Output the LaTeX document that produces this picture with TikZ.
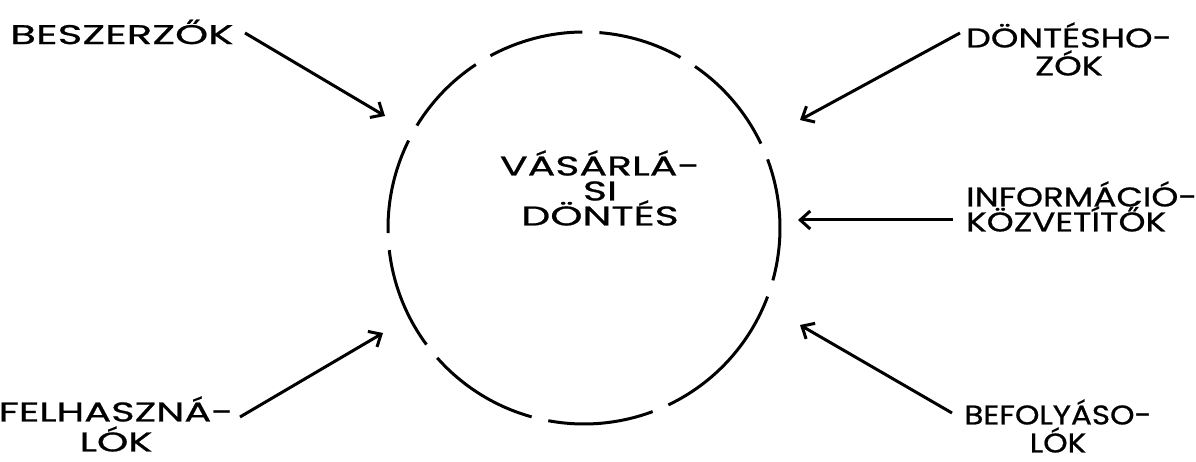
\documentclass[tikz,border=0pt]{standalone}
\usepackage{fontspec}
\newfontfamily\fA[FakeStretch=1.56,FakeBold=0.8]{Poppins}
\newfontfamily\fB[FakeStretch=1.30,FakeBold=0.8]{Poppins}
\newfontfamily\fC[FakeStretch=1.27,FakeBold=0.8]{Poppins}
\newfontfamily\fD[FakeStretch=1.48,FakeBold=0.8]{Poppins}
\newfontfamily\fE[FakeStretch=1.15,FakeBold=0.8]{Poppins}
\newfontfamily\fF[FakeStretch=1.52,FakeBold=0.8]{Poppins}
\usetikzlibrary{arrows.meta,calc}
\lineskiplimit=-100pt
\newcommand\lsA{\fontsize{27}{28}\selectfont}
\newcommand\lsB{\fontsize{27}{25}\selectfont}
\newcommand\lsC{\fontsize{27}{30}\selectfont}
\tikzset{
  lbl/.style={inner sep=0pt, align=center},
  arr/.style={line width=3pt, -{Straight Barb[length=10pt,width=18pt,line width=3pt]}},
  ring/.style={line width=3pt}
}
\begin{document}
\begin{tikzpicture}[x=1pt,y=1pt]
\useasboundingbox (0,0) rectangle (1196,462);
% circle with gaps
\coordinate (c) at (584,234);
\foreach \a/\b in {25.5/55.5, 60.5/85.5, 90.5/118.5, 123.5/148.5, 153.5/181.5, 186.5/216.5, 221.5/254.5, 259.5/290.5, 295.5/339.5, 344.5/380.5}
  \draw[ring] ($(c)+(\a:196)$) arc[start angle=\a, end angle=\b, radius=196];
\node[lbl, font=\fF\lsB] (dontes) at (600,274) {VÁSÁRLÁ-\\SI\\DÖNTÉS};
% labels
\node[lbl, font=\fA\lsA, anchor=west] (besz) at (10,430) {BESZERZŐK};
\node[lbl, font=\fB\lsA] (donth) at (1069,413) {DÖNTÉSHO-\\ZÓK};
\node[lbl, font=\fC\lsB, align=left, anchor=west] (info) at (966,255.5) {INFORMÁCIÓ-\\KÖZVETÍTŐK};
\node[lbl, font=\fD\lsC] (felh) at (116,38) {FELHASZNÁ-\\LÓK};
\node[lbl, font=\fE\lsA] (befoly) at (1058,36) {BEFOLYÁSO-\\LÓK};
% arrow ends
\coordinate (s1) at (245,429); \coordinate (t1) at (385,346);
\coordinate (s2) at (960,429); \coordinate (t2) at (800,342);
\coordinate (s3) at (953,242); \coordinate (t3) at (798,242);
\coordinate (s4) at (240,45);  \coordinate (t4) at (383,129);
\coordinate (s5) at (952,49);  \coordinate (t5) at (800,137);
\draw[arr] (s1) -- (t1);
\draw[arr] (s2) -- (t2);
\draw[arr] (s3) -- (t3);
\draw[arr] (s4) -- (t4);
\draw[arr] (s5) -- (t5);
\end{tikzpicture}
\end{document}
